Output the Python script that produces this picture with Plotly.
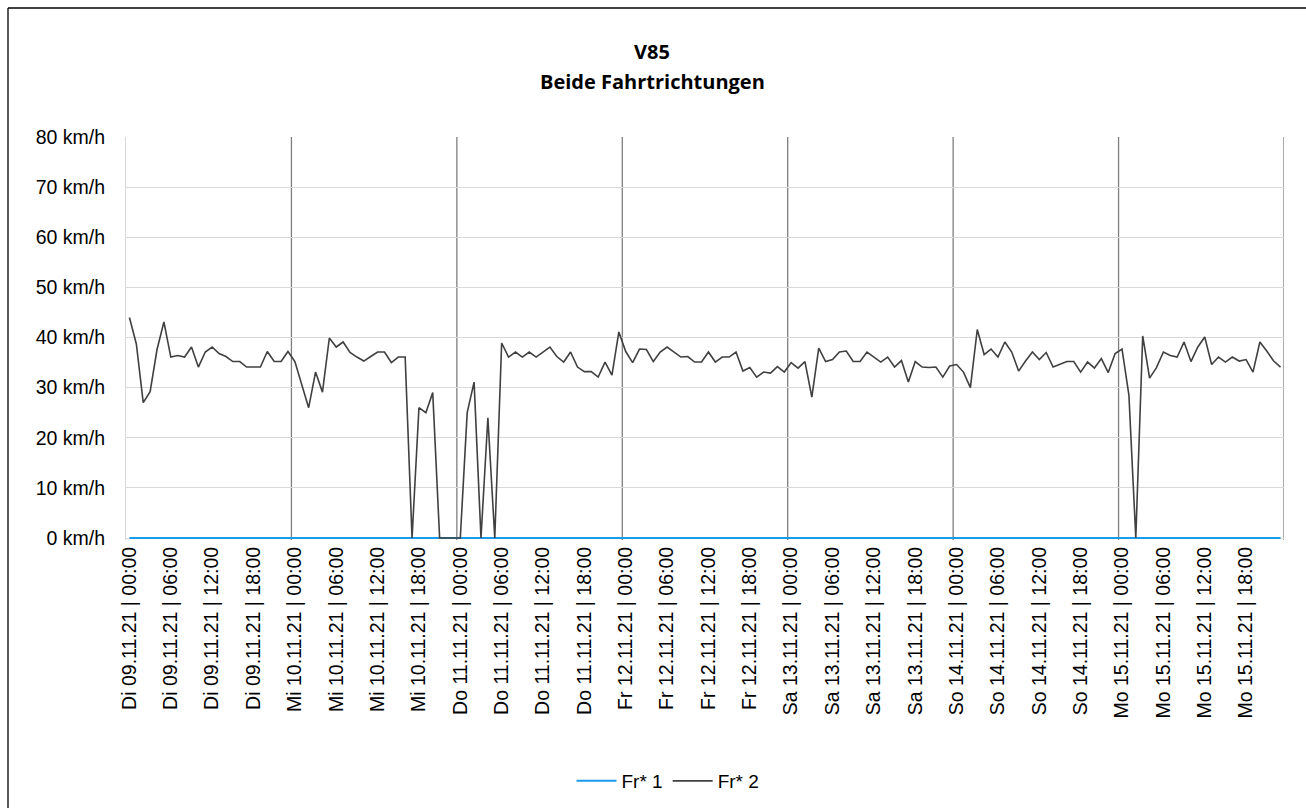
import plotly.graph_objects as go

days = ["Di 09.11.21", "Mi 10.11.21", "Do 11.11.21", "Fr 12.11.21",
        "Sa 13.11.21", "So 14.11.21", "Mo 15.11.21"]
hours = ["%02d:00" % h for h in range(24)]
categories = [f"{d} | {h}" for d in days for h in hours]

fr2 = [
    # Di 09.11.21
    44.0, 38.7, 27.0, 29.2, 37.6, 43.1, 36.1, 36.4, 36.1, 38.1, 34.1, 37.1,
    38.1, 36.8, 36.2, 35.2, 35.2, 34.1, 34.1, 34.1, 37.2, 35.2, 35.2, 37.2,
    # Mi 10.11.21
    35.2, 30.5, 26.0, 33.1, 29.1, 39.9, 38.1, 39.1, 37.0, 36.1, 35.3, 36.2,
    37.1, 37.1, 35.0, 36.1, 36.1, 0.0, 26.0, 25.0, 29.0, 0.0, 0.0, 0.0,
    # Do 11.11.21
    0.0, 25.0, 31.1, 0.0, 24.0, 0.0, 38.9, 36.1, 37.1, 36.1, 37.1, 36.1,
    37.1, 38.1, 36.2, 35.1, 37.1, 34.1, 33.2, 33.2, 32.1, 35.1, 32.5, 41.1,
    # Fr 12.11.21
    37.2, 35.0, 37.7, 37.6, 35.2, 37.1, 38.1, 37.1, 36.1, 36.2, 35.1, 35.1,
    37.1, 35.1, 36.1, 36.1, 37.1, 33.3, 34.0, 32.1, 33.1, 32.9, 34.2, 33.1,
    # Sa 13.11.21
    35.0, 33.9, 35.2, 28.1, 37.9, 35.2, 35.6, 37.1, 37.3, 35.2, 35.2, 37.1,
    36.1, 35.1, 36.1, 34.1, 35.4, 31.1, 35.2, 34.1, 34.0, 34.1, 32.1, 34.3,
    # So 14.11.21
    34.6, 33.1, 30.0, 41.6, 36.6, 37.7, 36.1, 39.1, 37.1, 33.3, 35.3, 37.1,
    35.6, 37.0, 34.1, 34.6, 35.2, 35.2, 33.1, 35.1, 33.9, 35.8, 33.0, 36.8,
    # Mo 15.11.21
    37.7, 28.5, 0.0, 40.3, 31.9, 34.0, 37.1, 36.4, 36.1, 39.1, 35.2, 38.1,
    40.1, 34.6, 36.1, 35.1, 36.1, 35.3, 35.6, 33.1, 39.1, 37.3, 35.3, 34.1,
]
fr1 = [0.0] * len(categories)

y_ticks = [0, 10, 20, 30, 40, 50, 60, 70, 80]
y_labels = [f"{v} km/h" for v in y_ticks]

idx = list(range(len(categories)))
tick_idx = idx[::6]
tick_text = [categories[i] for i in tick_idx]

W, H = 1306, 808
L, R, T, B = 126, 22, 137, 268
PW, PH = W - L - R, H - T - B
Y0 = 538  # pixel row of the 0 km/h line


def px(xp):
    return (xp - L) / PW


def py(yp):
    return (H - B - yp) / PH


fig = go.Figure()
fig.add_trace(go.Scatter(x=idx, y=fr1, mode="lines", name="Fr* 1",
                         line=dict(color="#1A9BEB", width=2)))
fig.add_trace(go.Scatter(x=idx, y=fr2, mode="lines", name="Fr* 2",
                         line=dict(color="#404040", width=1.6)))

shapes = []
for d in range(1, len(days) + 1):
    xv = d * 24 - 0.5
    shapes.append(dict(type="line", xref="x", yref="paper", x0=xv, x1=xv,
                       y0=0, y1=1, line=dict(color="#7F7F7F", width=1.3),
                       layer="below"))
# outer chart border (left/top)
shapes.append(dict(type="line", xref="paper", yref="paper",
                   x0=px(8), x1=px(8), y0=py(808), y1=py(8),
                   line=dict(color="black", width=1.3)))
shapes.append(dict(type="line", xref="paper", yref="paper",
                   x0=px(8), x1=px(1306), y0=py(8), y1=py(8),
                   line=dict(color="black", width=1.3)))

title_font = dict(family="Open Sans, Arial", size=20, color="black")
annotations = [
    dict(text="<b>V85</b>", xref="paper", yref="paper", x=px(652), y=py(52),
         xanchor="center", yanchor="middle", showarrow=False, font=title_font),
    dict(text="<b>Beide Fahrtrichtungen</b>", xref="paper", yref="paper",
         x=px(652), y=py(82), xanchor="center", yanchor="middle",
         showarrow=False, font=title_font),
]

fig.update_layout(
    width=W, height=H,
    margin=dict(l=L, r=R, t=T, b=B, autoexpand=False),
    paper_bgcolor="white", plot_bgcolor="white",
    font=dict(family="Liberation Sans, Arial", size=19, color="black"),
    showlegend=True,
    legend=dict(orientation="h", x=px(668), xanchor="center", y=py(781),
                yanchor="middle", font=dict(size=19), itemwidth=40),
    shapes=shapes,
    annotations=annotations,
)
fig.update_xaxes(range=[-0.5, len(categories) - 0.5], tickmode="array",
                 tickvals=tick_idx, ticktext=tick_text, tickangle=-90,
                 showgrid=False, zeroline=False, showline=False,
                 ticks="", ticklabelstandoff=2,
                 automargin=False, tickfont=dict(size=19.5))
fig.update_yaxes(range=[-0.4, 80], tickmode="array", tickvals=y_ticks,
                 ticktext=y_labels, showgrid=True, gridcolor="#D9D9D9",
                 gridwidth=1, zeroline=False, showline=True, linecolor="#D9D9D9",
                 ticks="", ticklabelstandoff=16, automargin=False,
                 tickfont=dict(size=19.5))

fig.write_html("out.html", config={"displayModeBar": False},
               post_script="document.body.style.margin='0px';")
